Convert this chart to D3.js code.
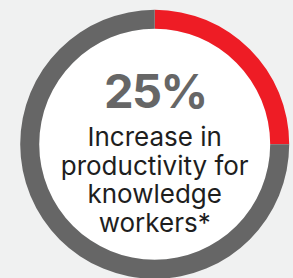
<!DOCTYPE html>
<head>
  <meta charset="utf-8">
  <script src="https://d3js.org/d3.v7.min.js"></script>
  <style>
  body { margin: 0; background: #f0f1f1; }
  svg { display: block; }
  text { font-family: Inter, "Noto Sans", sans-serif; }
</style>
</head>
<body>
<svg width="293" height="278"></svg>

<script type="text/javascript">
// Data
var labels = ["Increase", "Rest"];
var values = [25, 75];
var colors = ["#ee1c25", "#666666"];
var headline = "25%";
var captionLines = ["Increase in", "productivity for", "knowledge", "workers*"];

var svg = d3.select("svg");
var cx = 154.7, cy = 144.3;
var outerR = 134.5, innerR = 115.5;

var g = svg.append("g")
    .attr("transform", "translate(" + cx + "," + cy + ")");

// white disc behind the text
g.append("circle")
    .attr("r", innerR)
    .attr("fill", "#fff");

var pie = d3.pie().sort(null).value(function(d) { return d; });
var arc = d3.arc().innerRadius(innerR).outerRadius(outerR);

g.selectAll("path")
    .data(pie(values))
  .enter().append("path")
    .attr("d", arc)
    .attr("fill", function(d, i) { return colors[i]; });

g.append("text")
    .attr("text-anchor", "middle")
    .attr("x", 0.7)
    .attr("y", 108 - cy)
    .attr("font-size", 47)
    .attr("font-weight", 700)
    .attr("letter-spacing", -1.5)
    .attr("fill", "#666666")
    .text(headline);

g.selectAll(".cap")
    .data(captionLines)
  .enter().append("text")
    .attr("class", "cap")
    .attr("text-anchor", "middle")
    .attr("y", function(d, i) { return 146.3 + i * 28.5 - cy; })
    .attr("font-size", 26)
    .attr("fill", "#1e1e1e")
    .text(function(d) { return d; });
</script>
</body>
</html>
